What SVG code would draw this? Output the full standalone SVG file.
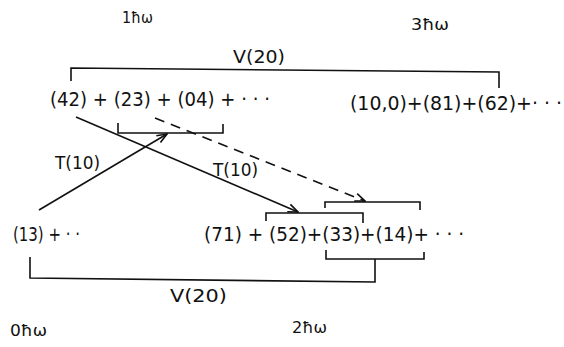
<svg xmlns="http://www.w3.org/2000/svg" width="564" height="347" viewBox="0 0 564 347">
  <style>
    .t { font-family: "DejaVu Sans", "Liberation Sans", sans-serif; fill: #111; }
    .eq { font-size: 19px; }
    .lab { font-size: 17px; }
    .lvl { font-size: 16px; }
    .ln { fill: none; stroke: #111; stroke-width: 1.6; }
    .dash { stroke-dasharray: 10 7; }
  </style>
  <defs>
    <marker id="arr" viewBox="0 0 12 10" refX="11" refY="5" markerWidth="12" markerHeight="10" markerUnits="userSpaceOnUse" orient="auto">
      <path d="M1,1 L11,5 L1,9" fill="none" stroke="#111" stroke-width="1.6"/>
    </marker>
  </defs>
  <rect width="564" height="347" fill="#fff"/>

  <!-- oscillator shell labels -->
  <g id="levels" class="t lvl">
    <text x="122" y="23" textLength="31" lengthAdjust="spacingAndGlyphs">1ħω</text>
    <text x="411" y="30" textLength="38" lengthAdjust="spacingAndGlyphs">3ħω</text>
    <text x="10" y="336" textLength="37" lengthAdjust="spacingAndGlyphs">0ħω</text>
    <text x="292" y="333" textLength="35" lengthAdjust="spacingAndGlyphs">2ħω</text>
  </g>

  <!-- SU(3) expansions -->
  <g id="n1" class="t eq">
    <text x="50" y="106" textLength="220" lengthAdjust="spacingAndGlyphs">(42) + (23) + (04) + · · ·</text>
  </g>
  <g id="n3" class="t eq">
    <text x="350" y="110" textLength="212" lengthAdjust="spacingAndGlyphs">(10,0)+(81)+(62)+· · ·</text>
  </g>
  <g id="n0" class="t eq">
    <text x="13" y="241" textLength="67" lengthAdjust="spacingAndGlyphs">(13) + · ·</text>
  </g>
  <g id="n2" class="t eq">
    <text x="204" y="241" textLength="260" lengthAdjust="spacingAndGlyphs">(71) + (52)+(33)+(14)+ · · ·</text>
  </g>

  <!-- couplings -->
  <g id="connectors">
    <!-- V(20) linking 1ħω and 3ħω -->
    <path class="ln" d="M71,81 L71,68 L499,72 L499,88"/>
    <text class="t lab" x="233" y="63" textLength="52" lengthAdjust="spacingAndGlyphs">V(20)</text>

    <!-- bracket under (23)+(04) -->
    <path class="ln" d="M118,123 L118,133 L223,133 L223,124"/>

    <!-- T(10) from (13) -->
    <path class="ln" d="M39,210 L167,134" marker-end="url(#arr)"/>
    <text class="t lab" x="55" y="169" textLength="45" lengthAdjust="spacingAndGlyphs">T(10)</text>

    <!-- T(10) from (42) -->
    <path class="ln" d="M76,117 L298,212" marker-end="url(#arr)"/>
    <text class="t lab" x="213" y="176" textLength="45" lengthAdjust="spacingAndGlyphs">T(10)</text>

    <!-- dashed coupling -->
    <path class="ln dash" d="M155,118 L365,201" marker-end="url(#arr)"/>

    <!-- brackets over (52)+(33) and (33)+(14) -->
    <path class="ln" d="M266,221 L266,213 L363,213 L363,223"/>
    <path class="ln" d="M325,208 L325,202 L420,202 L420,210"/>

    <!-- V(20) linking 0ħω and 2ħω -->
    <path class="ln" d="M326,250 L326,259 L424,259 L424,252"/>
    <path class="ln" d="M30,257 L30,278 L375,282 L375,259"/>
    <text class="t lab" x="170" y="302" textLength="57" lengthAdjust="spacingAndGlyphs">V(20)</text>
  </g>
</svg>
